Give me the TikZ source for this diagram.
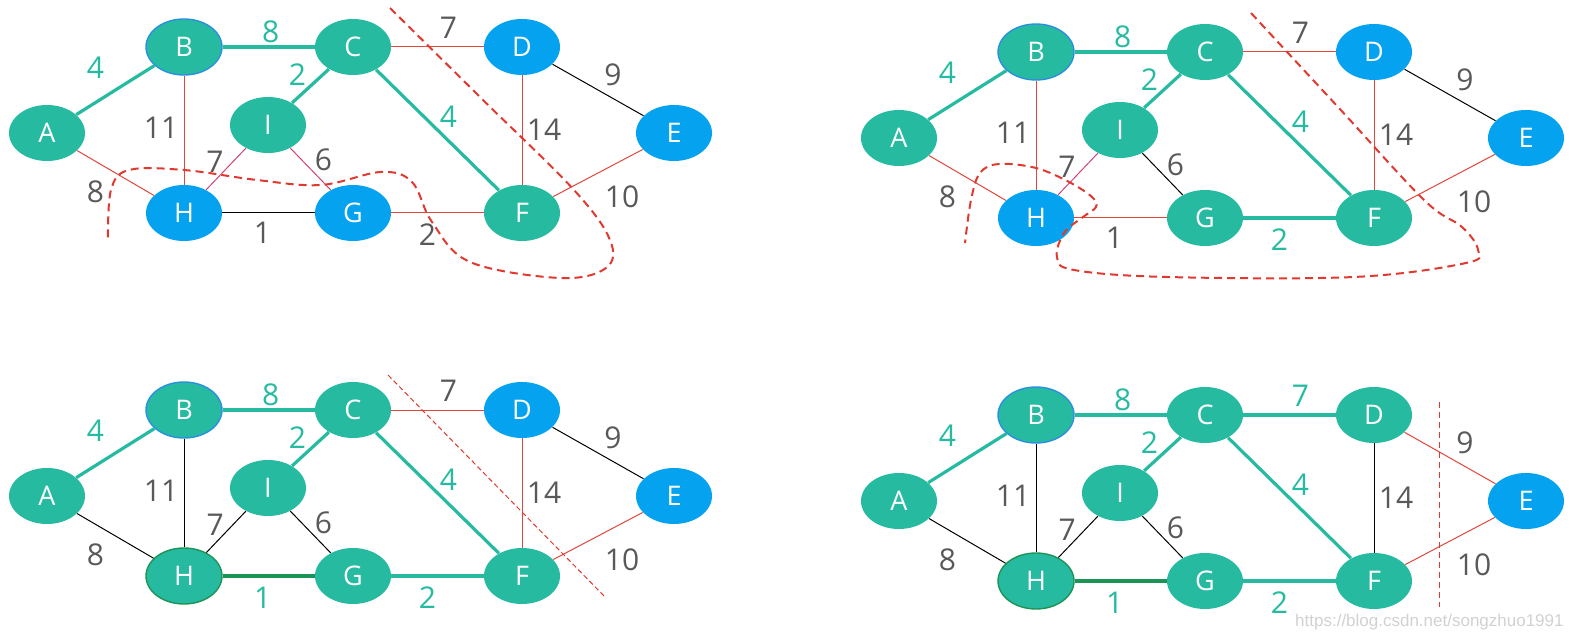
\documentclass[tikz,border=0pt]{standalone}
\usepackage{fontspec}
\setsansfont{Open Sans}
\newfontfamily\markfont{Liberation Sans}
\usepackage{tikz}
\usetikzlibrary{shapes.geometric}
\definecolor{mint}{HTML}{26BBA1}
\definecolor{sky}{HTML}{05A2EF}
\definecolor{rim}{HTML}{2B8FE0}
\definecolor{deepgreen}{HTML}{1C9455}
\definecolor{cutred}{HTML}{E0392F}
\definecolor{edgered}{HTML}{E0463B}
\definecolor{rose}{HTML}{D2437A}
\definecolor{labgray}{HTML}{595959}

\begin{document}
\begin{tikzpicture}[x=0.5pt, y=-0.5pt,
  every node/.style={font=\sffamily},
  vtx/.style={ellipse, fill=mint, text=white, minimum width=38pt, minimum height=28pt,
    inner sep=0pt, font=\sffamily\fontsize{13.5}{14}\selectfont},
  gv/.style={},
  bv/.style={fill=sky},
  bo/.style={draw=rim, line width=0.7pt},
  ho/.style={draw=deepgreen, line width=0.7pt},
  lbl/.style={font=\sffamily\fontsize{15}{16}\selectfont},
  mst/.style={draw=mint, line width=1.6pt, nodes={text=mint}},
  dkg/.style={draw=deepgreen, line width=1.6pt, nodes={text=mint}},
  red/.style={draw=edgered, line width=0.5pt, nodes={text=labgray}},
  pink/.style={draw=rose, line width=0.5pt, nodes={text=labgray}},
  blk/.style={draw=black, line width=0.5pt, nodes={text=labgray}},
  cutcurve/.style={draw=cutred, line width=1pt, dash pattern=on 4pt off 2.5pt},
  cutthin/.style={draw=cutred, line width=0.5pt, dash pattern=on 2.5pt off 1.5pt}]
  \useasboundingbox (0,0) rectangle (1573,641);

  % step 1: cut around {D,E,H,G}
  \begin{scope}[name prefix=p1-]
    \foreach \n/\x/\y/\s in {A/47/133/gv, B/184/47/bo, C/353/47/gv, D/522/47/bv, E/674/133/bv,
        I/268/125/gv, H/184/213/bv, G/353/213/bv, F/522/213/gv}
      \node[vtx,\s] (\n) at (\x,\y) {\n};
    \foreach \u/\v/\s/\w/\dx/\dy in {A/B/mst/4/-20/-22, B/C/mst/8/2/-15, C/D/red/7/11/-19,
        D/E/blk/9/15/-15, B/H/red/11/-23/-2, I/C/mst/2/-13/-11, C/F/mst/4/11/-13,
        D/F/red/14/22/0, H/I/pink/7/-11/-7, I/G/pink/6/13/-9, A/H/red/8/-20/19,
        H/G/blk/1/-6/20, G/F/red/2/-10/22, F/E/red/10/24/24}
      \draw[\s] (\u) -- node[lbl, shift={(\dx,\dy)}] {\w} (\v);
    \draw[cutcurve] plot[smooth, tension=0.6] coordinates {(390,8) (482,99) (574,190)
      (610,240) (606,268) (560,278) (470,262) (432,222) (412,182) (381,172) (321,185)
      (257,180) (184,170) (129,170) (111,190) (108,240)};
  \end{scope}

  % step 2: cut around {D,E,H}
  \begin{scope}[shift={(852,5)}, name prefix=p2-]
    \foreach \n/\x/\y/\s in {A/47/133/gv, B/184/47/bo, C/353/47/gv, D/522/47/bv, E/674/133/bv,
        I/268/125/gv, H/184/213/bv, G/353/213/gv, F/522/213/gv}
      \node[vtx,\s] (\n) at (\x,\y) {\n};
    \foreach \u/\v/\s/\w/\dx/\dy in {A/B/mst/4/-20/-22, B/C/mst/8/2/-15, C/D/red/7/11/-19,
        D/E/blk/9/15/-15, B/H/red/11/-23/-2, I/C/mst/2/-13/-11, C/F/mst/4/11/-13,
        D/F/red/14/22/0, H/I/pink/7/-11/-7, I/G/blk/6/13/-9, A/H/red/8/-20/19,
        H/G/red/1/-6/20, G/F/mst/2/-10/22, F/E/red/10/24/24}
      \draw[\s] (\u) -- node[lbl, shift={(\dx,\dy)}] {\w} (\v);
    \draw[cutcurve] plot[smooth, tension=0.6] coordinates {(399,8) (486,102) (572,195)
      (610,222) (626,245) (614,258) (502,272) (315,272) (222,265) (205,252) (212,228)
      (231,212) (244,202) (240,192) (217,177) (184,163) (147,159) (128,168) (119,195)
      (113,238)};
  \end{scope}

  % step 3: cut between {D,E} and the rest
  \begin{scope}[shift={(0,363)}, name prefix=p3-]
    \foreach \n/\x/\y/\s in {A/47/133/gv, B/184/47/bo, C/353/47/gv, D/522/47/bv, E/674/133/bv,
        I/268/125/gv, H/184/213/ho, G/353/213/gv, F/522/213/gv}
      \node[vtx,\s] (\n) at (\x,\y) {\n};
    \foreach \u/\v/\s/\w/\dx/\dy in {A/B/mst/4/-20/-22, B/C/mst/8/2/-15, C/D/red/7/11/-19,
        D/E/blk/9/15/-15, B/H/blk/11/-23/-2, I/C/mst/2/-13/-11, C/F/mst/4/11/-13,
        D/F/red/14/22/0, H/I/blk/7/-11/-7, I/G/blk/6/13/-9, A/H/blk/8/-20/19,
        H/G/dkg/1/-6/22, G/F/mst/2/-10/22, F/E/red/10/24/24}
      \draw[\s] (\u) -- node[lbl, shift={(\dx,\dy)}] {\w} (\v);
    \draw[cutthin] (388,12) -- (606,235);
  \end{scope}

  % step 4: only E is left
  \begin{scope}[shift={(852,368)}, name prefix=p4-]
    \foreach \n/\x/\y/\s in {A/47/133/gv, B/184/47/bo, C/353/47/gv, D/522/47/gv, E/674/133/bv,
        I/268/125/gv, H/184/213/ho, G/353/213/gv, F/522/213/gv}
      \node[vtx,\s] (\n) at (\x,\y) {\n};
    \foreach \u/\v/\s/\w/\dx/\dy in {A/B/mst/4/-20/-22, B/C/mst/8/2/-15, C/D/mst/7/11/-19,
        D/E/red/9/15/-15, B/H/blk/11/-23/-2, I/C/mst/2/-13/-11, C/F/mst/4/11/-13,
        D/F/blk/14/22/0, H/I/blk/7/-11/-7, I/G/blk/6/13/-9, A/H/blk/8/-20/19,
        H/G/dkg/1/-6/22, G/F/mst/2/-10/22, F/E/red/10/24/24}
      \draw[\s] (\u) -- node[lbl, shift={(\dx,\dy)}] {\w} (\v);
    \draw[cutthin, dash pattern=on 3pt off 2pt] (587,34) -- (587,239);
  \end{scope}

  \node[font=\markfont\fontsize{8.5}{9}\selectfont, text=black!18, anchor=east, inner sep=0pt]
    (mark) at (1564,622) {https://blog.csdn.net/songzhuo1991};
\end{tikzpicture}
\end{document}
